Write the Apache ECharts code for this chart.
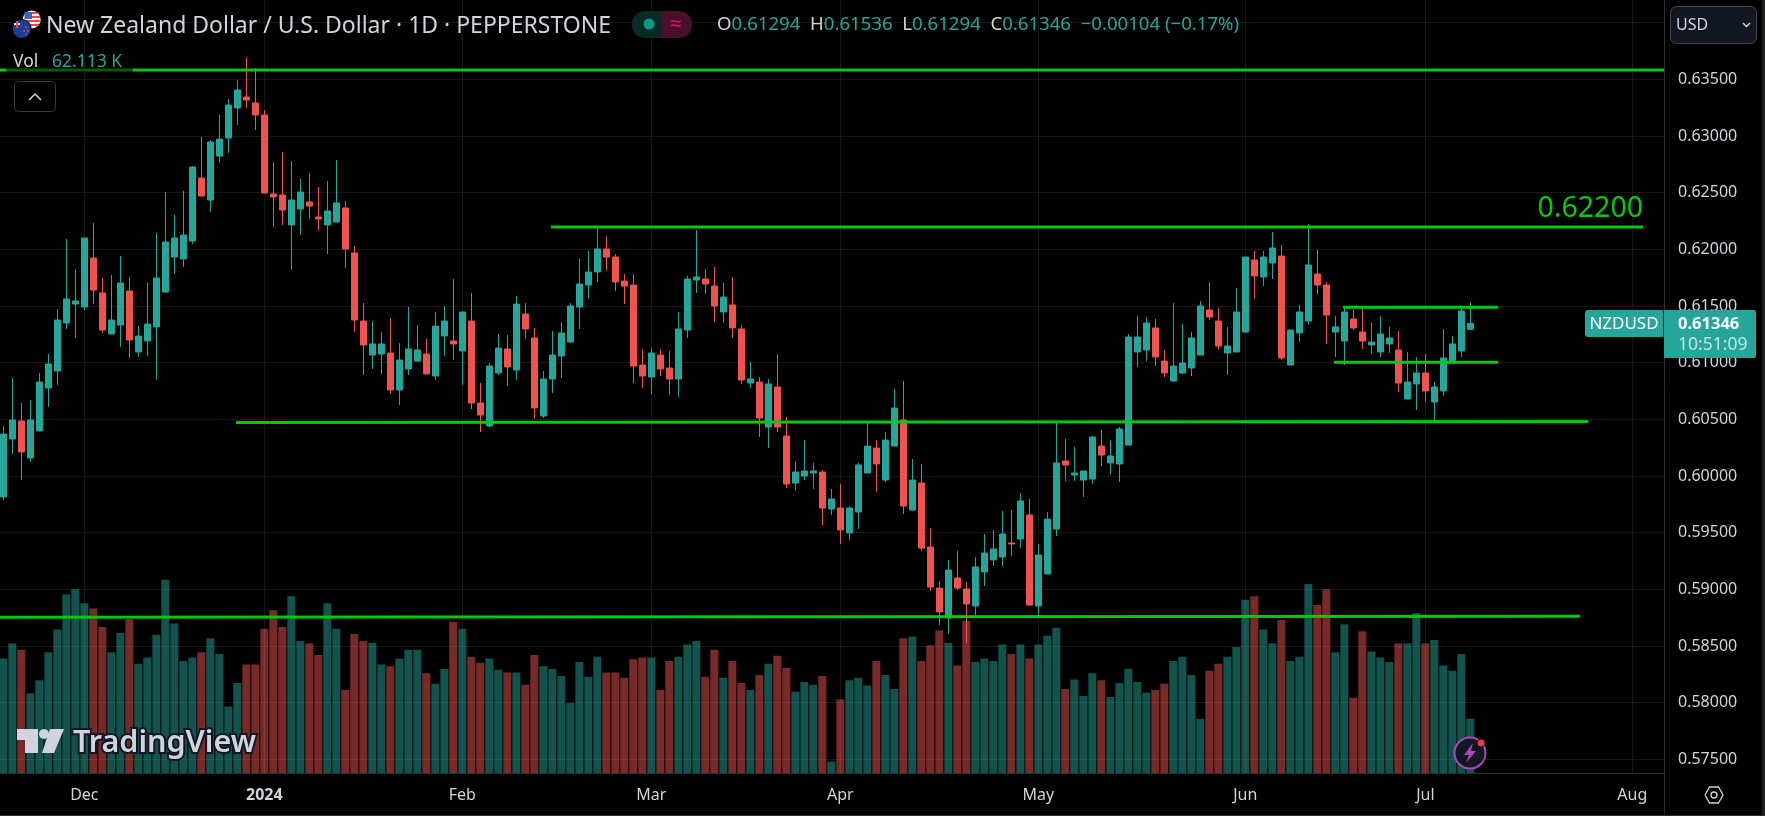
<!DOCTYPE html>
<html>
<head>
    <meta charset="utf-8">
    <title>NZDUSD</title>
    <script src="https://cdn.jsdelivr.net/npm/echarts@6/dist/echarts.min.js"></script>
    <style>
        html, body { margin: 0; padding: 0; background: #000; }
    </style>
</head>
<body>
    <div id="main" style="width: 1765px;height:816px;"></div>
    <script type="text/javascript">
    // daily candles, prices in 1/100000
    var opens = [
        59815,60326,60485,60159,60397,60776,60926,61350,61517,61491,
        61923,61615,61253,61332,61632,61094,61191,61315,61623,61932,
        61915,62073,62629,62435,62823,62982,63247,63344,63291,63185,
        62488,62479,62215,62356,62418,62285,62215,62241,62365,61968,
        61367,61067,61076,61085,60759,60944,61014,61076,60882,61235,
        61191,61103,61367,60644,60441,60909,61120,60935,61429,61218,
        60529,60856,61059,61182,61491,61685,61800,62003,61932,61720,
        61685,60979,60873,61067,60953,60856,61288,61729,61738,61676,
        61447,61509,61297,60820,60829,60432,60785,60353,59938,60000,
        60026,60035,59709,59717,59497,59682,60026,60247,59964,60264,
        60494,59700,59938,59373,59011,58747,59100,59003,58853,59153,
        59259,59285,59409,59444,59656,58853,59135,59532,60132,60009,
        59964,59973,60264,60115,60106,60273,61094,61112,61306,61014,
        60838,60909,60953,61067,61465,61367,61085,61094,61270,61906,
        61756,61879,61941,60979,61262,61367,61782,61685,61270,61191,
        61385,61270,61156,61094,61165,61112,60679,60812,60909,60653,
        60750,60997,61103,61294
    ];
    var closes = [
        60370,60494,60212,60494,60829,60988,61376,61562,61544,62100,
        61641,61288,61376,61703,61200,61235,61341,61747,62065,62100,
        62126,62726,62470,62947,62973,63273,63406,63318,63185,62497,
        62462,62347,62435,62506,62382,62268,62338,62409,62003,61376,
        61156,61165,61165,60759,61023,61120,61112,60900,61323,61367,
        61165,61447,60644,60538,60970,61129,60962,61517,61297,60600,
        60856,61067,61262,61500,61694,61800,62003,61932,61712,61676,
        60970,60882,61085,60944,60856,61297,61738,61756,61694,61500,
        61579,61306,60847,60856,60512,60812,60432,59929,60035,60044,
        60044,59717,59797,59523,59717,60097,60264,60106,60317,60600,
        59735,59964,59364,59020,58800,59170,59011,58870,59197,59320,
        59356,59488,59400,59779,58861,59303,59620,60115,60097,60026,
        60044,60344,60185,60176,60415,61226,61226,61350,61050,60909,
        60970,60997,61218,61500,61403,61147,61147,61447,61932,61765,
        61932,62012,61041,61288,61447,61862,61685,61420,61315,61447,
        61306,61191,61182,61253,61218,60820,60829,60909,60750,60785,
        61041,61165,61456,61346
    ];
    var lows = [
        59788,60194,59964,60123,60397,60609,60803,61297,61218,61465,
        61517,61262,61253,61138,61041,61050,61059,60847,61615,61782,
        61844,62047,62470,62329,62762,62850,63097,63247,63053,62497,
        62197,62215,61818,62126,62268,62162,61959,62241,61835,61270,
        60891,60944,60900,60723,60626,60891,61006,60900,60847,61059,
        61023,60803,60591,60388,60432,60891,60794,60847,61209,60503,
        60512,60732,60865,61173,61297,61562,61712,61809,61632,61517,
        60820,60776,60723,60882,60715,60697,61218,61615,61606,61359,
        61350,61218,60812,60776,60344,60247,60388,59894,59867,59964,
        59885,59567,59656,59400,59435,59532,60026,59859,59947,60264,
        59664,59691,59338,58985,58685,58606,58994,58526,58773,59029,
        59206,59206,59294,59364,58861,58756,59135,59470,59956,59956,
        59815,59929,60088,60009,59947,60273,60962,61014,60970,60873,
        60829,60900,60882,61067,61376,61120,60891,61094,61270,61562,
        61676,61738,61023,60979,61182,61332,61606,61165,61050,60979,
        61288,61120,61076,61050,61085,60741,60679,60582,60653,60485,
        60706,60988,61050,61294
    ];
    var highs = [
        60441,60865,60644,60670,60909,61076,61473,62091,61826,62100,
        62232,61747,61773,61941,61756,61323,61703,62144,62506,62303,
        62515,62735,62991,62965,63185,63326,63494,63697,63600,63229,
        62771,62859,62779,62620,62673,62550,62603,62788,62426,62029,
        61526,61367,61270,61394,61173,61491,61332,61209,61447,61500,
        61738,61447,61615,60820,60997,61253,61244,61588,61526,61306,
        60926,61279,61359,61526,61915,61985,62188,62118,61959,61782,
        61782,61120,61129,61120,61103,61447,61765,62170,61826,61844,
        61703,61756,61332,61006,60873,60856,61076,60520,60132,60317,
        60115,60053,59885,59929,59735,60115,60467,60317,60388,60768,
        60838,60150,60106,59541,59073,59259,59338,59065,59285,59488,
        59523,59691,59700,59850,59797,59400,59682,60476,60326,60256,
        60044,60353,60406,60317,60432,61253,61412,61403,61385,61112,
        61526,61341,61270,61544,61712,61482,61315,61659,61932,61985,
        61985,62153,62038,61288,61509,62223,61994,61712,61412,61491,
        61465,61482,61350,61412,61315,61279,61094,61050,61076,60829,
        61297,61235,61482,61536
    ];
    // volume in thousands
    var volumes = [
        131,148,141,91,106,138,164,204,210,194,
        188,167,138,160,176,125,132,158,221,171,
        128,132,138,154,136,76,103,124,124,165,
        186,167,202,151,148,135,194,165,95,159,
        151,149,124,122,131,141,141,114,102,119,
        173,165,133,126,131,118,115,115,101,135,
        122,119,111,80,127,110,133,115,115,109,
        130,132,132,95,128,133,147,151,110,141,
        109,128,103,95,112,125,134,120,93,104,
        101,111,13,84,106,109,100,128,112,96,
        154,156,128,146,163,149,123,174,127,131,
        128,147,136,147,131,147,157,166,96,107,
        88,114,106,87,103,119,104,92,95,102,
        128,133,112,62,117,125,133,144,198,202,
        164,148,175,128,133,216,192,210,138,170,
        86,162,139,132,127,148,148,183,148,152,
        123,117,136,62.113
    ];

    var monthBars = [9, 29, 51, 72, 93, 115, 138, 158, 181];
    var monthNames = ['Dec', '2024', 'Feb', 'Mar', 'Apr', 'May', 'Jun', 'Jul', 'Aug'];
    var priceTicks = [0.575, 0.58, 0.585, 0.59, 0.595, 0.6, 0.605, 0.61, 0.615, 0.62, 0.625, 0.63, 0.635, 0.64];

    // hand drawn lines: bar position at both ends, price at both ends
    var lineFromBar = [-0.37, 60.85, 25.86, 148.86, 147.85, -0.37];
    var lineToBar = [184.52, 182.2, 176.1, 166.08, 166.08, 175.2];
    var lineFromPrice = [0.63582, 0.62197, 0.60472, 0.61488, 0.61003, 0.58753];
    var lineToPrice = [0.63582, 0.62197, 0.60481, 0.61488, 0.61003, 0.58762];

    var UP = '#26a69a', DOWN = '#ef5350', LINE = '#06c80c', TEXT = '#d1d4dc', BORDER = '#2a2e39';
    var FONT = '"Noto Sans", sans-serif';

    var candleData = opens.map(function (o, i) {
        return [i, o / 1e5, closes[i] / 1e5, lows[i] / 1e5, highs[i] / 1e5];
    });
    var volumeData = volumes.map(function (v, i) {
        return {
            value: [i, v],
            itemStyle: { color: closes[i] >= opens[i] ? 'rgba(38,166,154,0.5)' : 'rgba(239,83,80,0.5)' }
        };
    });

    var lineSeries = lineFromBar.map(function (b, i) {
        return {
            type: 'line',
            xAxisIndex: 0,
            yAxisIndex: 0,
            z: 5,
            silent: true,
            symbol: 'none',
            lineStyle: { color: LINE, width: 3 },
            data: [[b, lineFromPrice[i]], [lineToBar[i], lineToPrice[i]]]
        };
    });

    function txt(text, x, y, size, fill, extra) {
        var style = { text: text, x: x, y: y, fill: fill, font: size + 'px ' + FONT, textAlign: 'left', textVerticalAlign: 'middle' };
        for (var k in (extra || {})) style[k] = extra[k];
        return { type: 'text', z: 30, silent: true, style: style };
    }
    function rect(x, y, w, h, fill, r, stroke, z) {
        return { type: 'rect', z: z || 20, silent: true, shape: { x: x, y: y, width: w, height: h, r: r || 0 },
            style: { fill: fill, stroke: stroke || null, lineWidth: 1 } };
    }
    function circle(cx, cy, r, fill, stroke, lw, z) {
        return { type: 'circle', z: z || 25, silent: true, shape: { cx: cx, cy: cy, r: r }, style: { fill: fill, stroke: stroke || null, lineWidth: lw || 1 } };
    }
    function poly(points, fill, z) {
        return { type: 'polygon', z: z || 25, silent: true, shape: { points: points }, style: { fill: fill } };
    }
    function pline(points, stroke, lw) {
        return { type: 'polyline', z: 25, silent: true, shape: { points: points }, style: { stroke: stroke, lineWidth: lw, fill: null } };
    }

    var ohlcText = '{l|O}{v|0.61294}  {l|H}{v|0.61536}  {l|L}{v|0.61294}  {l|C}{v|0.61346}  {v|\u22120.00104 (\u22120.17%)}';
    var RED = '#e5484d';

    var overlay = [
        // edges of the widget
        rect(1762, 0, 3, 816, '#1e1e20'),
        rect(0, 815, 1765, 1, '#2a2e39'),
        rect(1664, 773, 1, 43, BORDER),
        // legend dims the line under it
        rect(6, 52, 127, 20, 'rgba(0,0,0,0.55)'),
        // flags
        circle(31.7, 19.5, 9, '#f2f2f2', null, 1, 24),
        rect(24.5, 12, 7.5, 7, '#3c63bd', 0, null, 25),
        rect(32, 12, 5.5, 2, RED, 0, null, 25), rect(32, 16, 8, 2, RED, 0, null, 25),
        rect(26, 20, 14.5, 2, RED, 0, null, 25), rect(27, 24, 12, 2, RED, 0, null, 25),
        circle(21.7, 29, 9.5, '#1c3f94', '#000', 1, 26),
        rect(14, 23, 6, 2, '#f2f2f2', 0, null, 27), rect(16, 21, 2, 7, RED, 0, null, 27),
        circle(26, 27, 0.9, RED, null, 1, 27), circle(24, 31, 0.9, RED, null, 1, 27),
        circle(28, 31, 0.9, RED, null, 1, 27), circle(26, 34, 0.9, RED, null, 1, 27),
        txt('New Zealand Dollar / U.S. Dollar \u00b7 1D \u00b7 PEPPERSTONE', 46, 26, 23, TEXT),
        // market status pill
        { type: 'rect', z: 20, silent: true, shape: { x: 632, y: 11, width: 30, height: 27, r: [13, 0, 0, 13] }, style: { fill: '#0a2a26' } },
        { type: 'rect', z: 20, silent: true, shape: { x: 662, y: 11, width: 30, height: 27, r: [0, 13, 13, 0] }, style: { fill: '#4a0f2a' } },
        circle(649, 24, 5.5, '#089981'),
        txt('\u2248', 676, 24, 20, '#e91e63', { textAlign: 'center' }),
        txt(ohlcText, 717, 25, 18.6, UP, { rich: {
            l: { fill: TEXT, font: '18.6px ' + FONT },
            v: { fill: UP, font: '18.6px ' + FONT }
        } }),
        txt('Vol', 13, 62, 17.5, TEXT),
        txt('62.113 K', 52, 62, 17.5, UP),
        // collapse button
        rect(14.5, 81.5, 41, 30, '#000', 4, '#363a45'),
        pline([[29, 100], [35, 94], [41, 100]], TEXT, 1.5),
        // currency select
        rect(1670.5, 6.5, 86, 37, '#131722', 6, '#434651'),
        txt('USD', 1676, 25, 16, TEXT),
        pline([[1743, 23], [1746.5, 26.5], [1750, 23]], TEXT, 1.5),
        // annotation above the resistance line
        txt('0.62200', 1643, 209, 28.5, '#0ac80f', { textAlign: 'right' }),
        // last price tags
        { type: 'rect', z: 20, silent: true, shape: { x: 1585, y: 310, width: 78, height: 27, r: [3, 0, 0, 3] }, style: { fill: UP } },
        { type: 'rect', z: 20, silent: true, shape: { x: 1664, y: 310, width: 92, height: 48, r: [0, 2, 2, 0] }, style: { fill: UP } },
        txt('NZDUSD', 1624, 324, 17, '#fff', { textAlign: 'center' }),
        txt('0.61346', 1678, 324, 16.5, '#fff', { font: 'bold 16.5px ' + FONT }),
        txt('10:51:09', 1678, 345, 17.5, 'rgba(255,255,255,0.7)'),
        // settings hexagon
        pline([[1705, 795], [1709.5, 787], [1718.5, 787], [1723, 795], [1718.5, 803], [1709.5, 803], [1705, 795]], TEXT, 1.3),
        circle(1714, 795, 3, null, TEXT, 1.3),
        // watermark
        poly([[17, 729], [38, 729], [38, 753], [25, 753], [25, 740], [17, 740]], TEXT),
        circle(44, 734, 5, TEXT),
        poly([[50, 729], [64, 729], [54, 753], [42, 753]], TEXT),
        txt('TradingView', 73, 743, 30, TEXT, { font: '600 30.5px ' + FONT, stroke: '#131722', lineWidth: 4 }),
        // alert badge
        circle(1470, 753, 15.5, '#131722', '#ab47bc', 2),
        poly([[1473, 743], [1464, 755], [1469, 755], [1466, 763], [1476, 751], [1471, 751]], '#ab47bc', 26),
        circle(1481, 743, 4, '#f23645', '#131722', 1, 26)
    ];

    var myChart = echarts.init(document.getElementById('main'));

    var option = {
        backgroundColor: '#000',
        animation: false,
        grid: { left: 0, right: 101, top: 0, bottom: 43 },
        xAxis: {
            type: 'value',
            min: -0.37,
            max: 184.52,
            axisLine: { show: true, onZero: false, lineStyle: { color: BORDER } },
            axisTick: { show: false, customValues: monthBars },
            axisLabel: {
                customValues: monthBars,
                color: TEXT,
                fontFamily: FONT,
                fontSize: 16,
                margin: 14,
                formatter: function (v) {
                    var name = monthNames[monthBars.indexOf(v)];
                    return name === '2024' ? '{y|2024}' : name;
                },
                rich: { y: { fontWeight: 'bold', fontSize: 16, fontFamily: FONT, color: TEXT } }
            },
            splitLine: { show: true, lineStyle: { color: '#181818', width: 1 } }
        },
        yAxis: [{
            type: 'value',
            position: 'right',
            min: 0.57379,
            max: 0.642,
            axisLine: { show: true, onZero: false, lineStyle: { color: BORDER } },
            axisTick: { show: false, customValues: priceTicks },
            axisLabel: {
                customValues: priceTicks,
                color: TEXT,
                fontFamily: FONT,
                fontSize: 16,
                margin: 14,
                formatter: function (v) { return v.toFixed(5); }
            },
            splitLine: { show: true, lineStyle: { color: '#181818', width: 1 } }
        }, {
            type: 'value',
            show: false,
            min: 0,
            max: 883.6,
            splitLine: { show: false }
        }],
        series: [{
            name: 'Vol',
            type: 'bar',
            xAxisIndex: 0,
            yAxisIndex: 1,
            barWidth: 8,
            z: 1,
            data: volumeData
        }, {
            name: 'NZDUSD',
            type: 'candlestick',
            xAxisIndex: 0,
            yAxisIndex: 0,
            barWidth: 7,
            z: 3,
            encode: { x: 0, y: [1, 2, 3, 4] },
            itemStyle: { color: UP, color0: DOWN, borderColor: UP, borderColor0: DOWN, borderWidth: 1 },
            data: candleData
        }].concat(lineSeries),
        graphic: { elements: overlay }
    };

    myChart.setOption(option);
    </script>
</body>
</html>
